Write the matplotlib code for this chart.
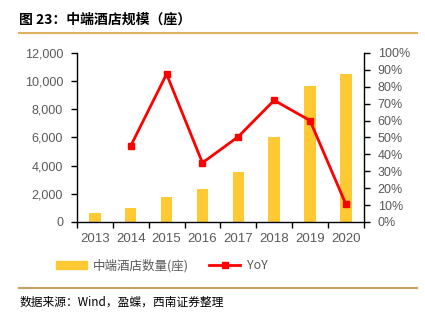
import matplotlib
matplotlib.use("Agg")
import matplotlib.pyplot as plt
import numpy as np
from matplotlib.lines import Line2D
from matplotlib.ticker import FuncFormatter, MultipleLocator

plt.rcParams['font.family'] = ['Liberation Sans', 'Noto Sans CJK SC', 'DejaVu Sans']

# data
years = ['2013', '2014', '2015', '2016', '2017', '2018', '2019', '2020']
hotels = [640, 970, 1750, 2340, 3550, 6030, 9650, 10500]
yoy_years = ['2014', '2015', '2016', '2017', '2018', '2019', '2020']
yoy = [45, 87.5, 35, 50.5, 72, 60, 10.5]

bar_color = '#FFC933'
line_color = '#FF0000'
tick_color = '#595959'

fig = plt.figure(figsize=(4.25, 3.25), dpi=100)
ax = fig.add_axes([0.181, 0.317, 0.675, 0.52])
x = np.arange(len(years))
ax.bar(x, hotels, width=0.32, color=bar_color, zorder=2)
ax.set_xlim(-0.5, len(years) - 0.5)
ax.set_ylim(0, 12000)
ax.yaxis.set_major_locator(MultipleLocator(2000))
ax.yaxis.set_major_formatter(FuncFormatter(lambda v, p: f'{int(v):,}'))
ax.set_xticks(x)
ax.set_xticklabels(years)
ax.set_xticks(np.arange(-0.5, len(years), 1), minor=True)
ax.tick_params(axis='x', which='major', length=0, pad=8, labelsize=9.5, labelcolor=tick_color)
ax.tick_params(axis='x', which='minor', length=4, width=1, direction='out')
ax.tick_params(axis='y', length=4, width=1, direction='out', labelsize=9, labelcolor=tick_color, pad=6)
for s in ['top', 'right']:
    ax.spines[s].set_visible(False)
ax.spines['left'].set_linewidth(1)
ax.spines['bottom'].set_linewidth(1)

ax2 = ax.twinx()
xi = [years.index(y) for y in yoy_years]
ax2.plot(xi, yoy, color=line_color, lw=2, marker='s', markersize=5, zorder=3)
ax2.set_ylim(0, 100)
ax2.yaxis.set_major_locator(MultipleLocator(10))
ax2.yaxis.set_major_formatter(FuncFormatter(lambda v, p: f'{int(v)}%'))
ax2.tick_params(axis='y', length=4, width=1, direction='out', labelsize=9, labelcolor=tick_color, pad=6)
for s in ['top', 'left', 'bottom']:
    ax2.spines[s].set_visible(False)
ax2.spines['right'].set_linewidth(1)

# legend
handles = [plt.Rectangle((0, 0), 1, 1, color=bar_color),
           Line2D([0], [0], color=line_color, lw=2, marker='s', markersize=5)]
fig.legend(handles, ['中端酒店数量(座)', 'YoY'], loc='center', bbox_to_anchor=(0.38, 0.183),
           ncol=2, frameon=False, labelcolor=tick_color,
           handlelength=2.5, columnspacing=1.6, handletextpad=0.5,
           prop={'family': ['Noto Sans CJK SC'], 'size': 9})

# title and source
fig.text(0.045, 0.94, '图 23：中端酒店规模（座）', fontsize=10, fontweight='bold',
         ha='left', va='center', family=['Noto Sans CJK SC'])
fig.add_artist(Line2D([0.045, 0.98], [0.897, 0.897], color='#E0B060', lw=1.5))
fig.add_artist(Line2D([0.045, 0.98], [0.114, 0.114], color='#C8A060', lw=1.5))
fig.text(0.045, 0.07, '数据来源：Wind，盈蝶，西南证券整理', fontsize=8.5, style='italic',
         ha='left', va='center', family=['Noto Sans CJK SC'])

fig.savefig('out.png', dpi=100)
